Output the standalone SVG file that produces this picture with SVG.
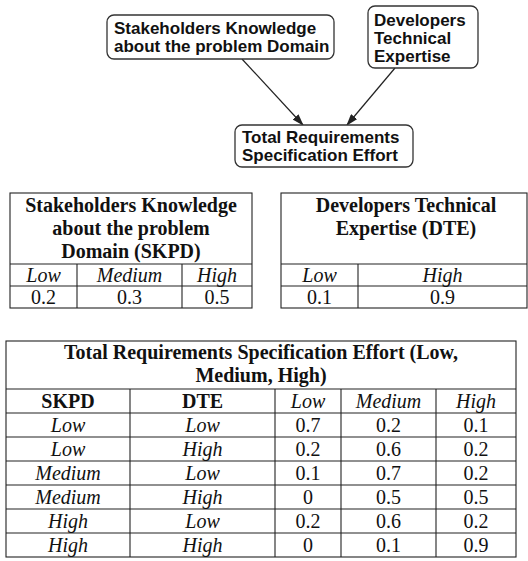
<svg xmlns="http://www.w3.org/2000/svg" width="528" height="561" viewBox="0 0 528 561">
<style>
.node rect{fill:#fff;stroke:#333;stroke-width:1.3}
.nt{font-family:"Liberation Sans",Arial,sans-serif;font-weight:bold;font-size:17px;fill:#111}
.edge{stroke:#222;stroke-width:1.2;fill:none}
.tb{fill:none;stroke:#222;stroke-width:1.1}
.ln{stroke:#222;stroke-width:1.1}
.t{font-family:"Liberation Serif","Times New Roman",serif;font-size:20px;fill:#111;text-anchor:middle}
.b{font-weight:bold}
.i{font-style:italic}
</style>
<defs>
<marker id="ah" markerWidth="12" markerHeight="8" refX="11" refY="4" orient="auto" markerUnits="userSpaceOnUse">
<path d="M0,0 L12,4 L0,8 Z" fill="#222"/>
</marker>
</defs>
<rect width="528" height="561" fill="#fff"/>
<g id="edges">
<line class="edge" x1="242" y1="59" x2="303" y2="125" marker-end="url(#ah)"/>
<line class="edge" x1="395" y1="68" x2="347" y2="125" marker-end="url(#ah)"/>
</g>
<g id="node-skpd" class="node">
<rect x="107" y="15" width="227" height="44" rx="7"/>
<text class="nt" x="114" y="34">Stakeholders Knowledge</text>
<text class="nt" x="114" y="52">about the problem Domain</text>
</g>
<g id="node-dte" class="node">
<rect x="368" y="6" width="110" height="62" rx="7"/>
<text class="nt" x="374" y="26">Developers</text>
<text class="nt" x="374" y="44">Technical</text>
<text class="nt" x="374" y="62">Expertise</text>
</g>
<g id="node-trse" class="node">
<rect x="235" y="125" width="178" height="42" rx="7"/>
<text class="nt" x="242" y="143">Total Requirements</text>
<text class="nt" x="242" y="161">Specification Effort</text>
</g>
<g id="table-skpd">
<rect class="tb" x="10" y="193" width="242" height="115"/>
<line class="ln" x1="10" y1="264" x2="252" y2="264"/>
<line class="ln" x1="10" y1="286" x2="252" y2="286"/>
<line class="ln" x1="77" y1="264" x2="77" y2="308"/>
<line class="ln" x1="182" y1="264" x2="182" y2="308"/>
<text class="t b" x="131" y="212">Stakeholders Knowledge</text>
<text class="t b" x="131" y="235">about the problem</text>
<text class="t b" x="131" y="258">Domain (SKPD)</text>
<text class="t i" x="43.5" y="282">Low</text>
<text class="t i" x="129.5" y="282">Medium</text>
<text class="t i" x="217" y="282">High</text>
<text class="t" x="43.5" y="304">0.2</text>
<text class="t" x="129.5" y="304">0.3</text>
<text class="t" x="217" y="304">0.5</text>
</g>
<g id="table-dte">
<rect class="tb" x="281" y="193" width="246" height="115"/>
<line class="ln" x1="281" y1="264" x2="527" y2="264"/>
<line class="ln" x1="281" y1="286" x2="527" y2="286"/>
<line class="ln" x1="358" y1="264" x2="358" y2="308"/>
<text class="t b" x="406" y="212">Developers Technical</text>
<text class="t b" x="406" y="235">Expertise (DTE)</text>
<text class="t i" x="319.5" y="282">Low</text>
<text class="t i" x="442.5" y="282">High</text>
<text class="t" x="319.5" y="304">0.1</text>
<text class="t" x="442.5" y="304">0.9</text>
</g>
<g id="table-trse">
<rect class="tb" x="6" y="341" width="510" height="216"/>
<line class="ln" x1="6" y1="389" x2="516" y2="389"/>
<line class="ln" x1="6" y1="413" x2="516" y2="413"/>
<line class="ln" x1="6" y1="437" x2="516" y2="437"/>
<line class="ln" x1="6" y1="461" x2="516" y2="461"/>
<line class="ln" x1="6" y1="485" x2="516" y2="485"/>
<line class="ln" x1="6" y1="509" x2="516" y2="509"/>
<line class="ln" x1="6" y1="533" x2="516" y2="533"/>
<line class="ln" x1="130" y1="389" x2="130" y2="557"/>
<line class="ln" x1="275" y1="389" x2="275" y2="557"/>
<line class="ln" x1="341" y1="389" x2="341" y2="557"/>
<line class="ln" x1="436" y1="389" x2="436" y2="557"/>
<text class="t b" x="261" y="359">Total Requirements Specification Effort (Low,</text>
<text class="t b" x="261" y="382">Medium, High)</text>
<text class="t b" x="68" y="408">SKPD</text>
<text class="t b" x="202.5" y="408">DTE</text>
<text class="t i" x="308" y="408">Low</text>
<text class="t i" x="388.5" y="408">Medium</text>
<text class="t i" x="476" y="408">High</text>
<text class="t i" x="68" y="432">Low</text>
<text class="t i" x="202.5" y="432">Low</text>
<text class="t" x="308" y="432">0.7</text>
<text class="t" x="388.5" y="432">0.2</text>
<text class="t" x="476" y="432">0.1</text>
<text class="t i" x="68" y="456">Low</text>
<text class="t i" x="202.5" y="456">High</text>
<text class="t" x="308" y="456">0.2</text>
<text class="t" x="388.5" y="456">0.6</text>
<text class="t" x="476" y="456">0.2</text>
<text class="t i" x="68" y="480">Medium</text>
<text class="t i" x="202.5" y="480">Low</text>
<text class="t" x="308" y="480">0.1</text>
<text class="t" x="388.5" y="480">0.7</text>
<text class="t" x="476" y="480">0.2</text>
<text class="t i" x="68" y="504">Medium</text>
<text class="t i" x="202.5" y="504">High</text>
<text class="t" x="308" y="504">0</text>
<text class="t" x="388.5" y="504">0.5</text>
<text class="t" x="476" y="504">0.5</text>
<text class="t i" x="68" y="528">High</text>
<text class="t i" x="202.5" y="528">Low</text>
<text class="t" x="308" y="528">0.2</text>
<text class="t" x="388.5" y="528">0.6</text>
<text class="t" x="476" y="528">0.2</text>
<text class="t i" x="68" y="552">High</text>
<text class="t i" x="202.5" y="552">High</text>
<text class="t" x="308" y="552">0</text>
<text class="t" x="388.5" y="552">0.1</text>
<text class="t" x="476" y="552">0.9</text>
</g>
</svg>
